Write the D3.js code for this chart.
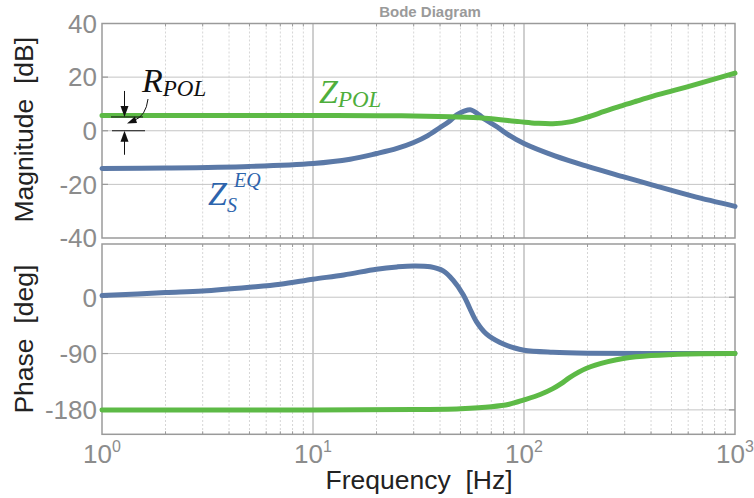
<!DOCTYPE html>
<html>
<head>
<meta charset="utf-8">
<script src="https://cdn.jsdelivr.net/npm/d3@7"></script>
<style>
  body { margin: 0; background: #fff; }
  text { font-family: "Liberation Sans", Arial, sans-serif; }
  .math { font-family: "Liberation Serif", "Times New Roman", serif; font-style: italic; }
</style>
</head>
<body>
<div id="chart"></div>
<script>
var svgWidth = 754;
var svgHeight = 498;

// magnitude curves (dB)
var blueMagFreq = [1, 2, 5, 10, 15, 20, 25, 30, 35, 40, 44, 48, 52, 56, 61, 66, 75, 83, 100, 140, 200, 300, 400, 630, 1000];
var blueMag = [-14.1, -13.9, -13.3, -12.2, -10.6, -8.5, -6.6, -4.4, -1.8, 1.2, 3.4, 5.9, 7.3, 7.8, 6.0, 4.0, 1.3, -1.2, -4.8, -9.4, -13.3, -17.3, -20.1, -24.4, -28.2];
var greenMagFreq = [1, 5, 10, 20, 30, 45, 65, 95, 115, 137, 165, 198, 240, 284, 340, 409, 490, 588, 760, 1000];
var greenMag = [5.7, 5.7, 5.7, 5.6, 5.5, 5.2, 4.7, 3.4, 2.8, 2.6, 3.3, 5.0, 7.2, 9.1, 11.0, 12.9, 14.6, 16.3, 18.8, 21.5];

// phase curves (deg)
var bluePhFreq = [1, 2, 3, 5, 7, 10, 14, 20, 25, 30, 36, 41.4, 46, 51.6, 55.3, 59.5, 66.3, 77, 89, 100, 137, 200, 400, 1000];
var bluePh = [2.6, 7.4, 10, 16, 20.8, 28.8, 35.6, 44.7, 48.4, 50, 48.6, 42, 27.6, 3.7, -17.6, -39, -58.7, -72.5, -80.5, -84.8, -88, -89.5, -90, -90];
var greenPhFreq = [1, 10, 30, 50, 70, 85, 100, 120, 137, 150, 165, 198, 250, 300, 400, 600, 1000];
var greenPh = [-180, -180, -179.5, -178, -175, -171, -164, -155, -146, -138, -128, -113.5, -103, -97.5, -93.3, -90.6, -90];

// tick labels
var magTicks = [40, 20, 0, -20, -40];
var phTicks = [0, -90, -180];
var freqTicks = [1, 10, 100, 1000];

var blueColor = "#5b79a7";
var greenColor = "#5dba46";
var frameColor = "#9a9a9a";
var tickTextColor = "#8c8c8c";

var svg = d3.select("#chart")
  .append("svg")
  .attr("width", svgWidth)
  .attr("height", svgHeight);

var plotLeft = 102, plotRight = 735;
var magTop = 23.5, magBottom = 238;
var phTop = 244, phBottom = 434.3;

var xScale = d3.scaleLog().domain([1, 1000]).range([plotLeft, plotRight]);
var yMag = d3.scaleLinear().domain([-40, 40]).range([magBottom, magTop]);
var yPh = d3.scaleLinear().domain([-219, 85]).range([phBottom, phTop]);

// minor frequencies 2..9 for each decade
var minorFreqs = [];
[1, 10, 100].forEach(function(d) {
  for (var k = 2; k <= 9; k++) minorFreqs.push(d * k);
});

function drawPanel(yScale, top, bottom, gridVals) {
  var g = svg.append("g");

  // minor vertical grid (dotted)
  g.selectAll(".minor").data(minorFreqs).enter().append("line")
    .attr("x1", d => xScale(d)).attr("x2", d => xScale(d))
    .attr("y1", top).attr("y2", bottom)
    .attr("stroke", "#d6d6d6").attr("stroke-width", 1)
    .attr("stroke-dasharray", "2,2");

  // major vertical grid
  g.selectAll(".major").data([10, 100]).enter().append("line")
    .attr("x1", d => xScale(d)).attr("x2", d => xScale(d))
    .attr("y1", top).attr("y2", bottom)
    .attr("stroke", d => d === 10 ? "#9e9e9e" : "#cfcfcf")
    .attr("stroke-width", d => d === 10 ? 1 : 2);

  // horizontal grid
  g.selectAll(".hgrid").data(gridVals).enter().append("line")
    .attr("x1", plotLeft).attr("x2", plotRight)
    .attr("y1", d => yScale(d)).attr("y2", d => yScale(d))
    .attr("stroke", "#c4c4c4").attr("stroke-width", 1);

  // inward ticks on left/right
  gridVals.forEach(function(v) {
    g.append("line").attr("x1", plotLeft).attr("x2", plotLeft + 6)
      .attr("y1", yScale(v)).attr("y2", yScale(v))
      .attr("stroke", frameColor).attr("stroke-width", 1.2);
    g.append("line").attr("x1", plotRight).attr("x2", plotRight - 6)
      .attr("y1", yScale(v)).attr("y2", yScale(v))
      .attr("stroke", frameColor).attr("stroke-width", 1.2);
  });

  // inward ticks on top/bottom
  minorFreqs.forEach(function(f) {
    [[top, 3], [bottom, -3]].forEach(function(p) {
      g.append("line").attr("x1", xScale(f)).attr("x2", xScale(f))
        .attr("y1", p[0]).attr("y2", p[0] + p[1])
        .attr("stroke", frameColor).attr("stroke-width", 1);
    });
  });

  // frame
  g.append("rect")
    .attr("x", plotLeft).attr("y", top)
    .attr("width", plotRight - plotLeft).attr("height", bottom - top)
    .attr("fill", "none").attr("stroke", frameColor).attr("stroke-width", 1.5);
  return g;
}

drawPanel(yMag, magTop, magBottom, [20, 0, -20]);
drawPanel(yPh, phTop, phBottom, [0, -90, -180]);

// curves
function drawCurve(freqs, vals, yScale, color) {
  var pts = freqs.map((f, i) => [f, vals[i]]);
  var line = d3.line()
    .x(d => xScale(d[0]))
    .y(d => yScale(d[1]))
    .curve(d3.curveCatmullRom.alpha(0.5));
  svg.append("path")
    .datum(pts)
    .attr("d", line)
    .attr("fill", "none")
    .attr("stroke", color)
    .attr("stroke-width", 5)
    .attr("stroke-linecap", "round")
    .attr("stroke-linejoin", "round");
}

drawCurve(blueMagFreq, blueMag, yMag, blueColor);
drawCurve(greenMagFreq, greenMag, yMag, greenColor);
drawCurve(bluePhFreq, bluePh, yPh, blueColor);
drawCurve(greenPhFreq, greenPh, yPh, greenColor);

// y tick labels
svg.selectAll(".magLabel").data(magTicks).enter().append("text")
  .attr("x", 97).attr("y", d => yMag(d))
  .attr("dy", "0.36em")
  .attr("text-anchor", "end")
  .attr("font-size", 26)
  .attr("fill", tickTextColor)
  .text(d => d);

svg.selectAll(".phLabel").data(phTicks).enter().append("text")
  .attr("x", 97).attr("y", d => yPh(d))
  .attr("dy", "0.36em")
  .attr("text-anchor", "end")
  .attr("font-size", 26)
  .attr("fill", tickTextColor)
  .text(d => d);

// x tick labels 10^n
var xLab = svg.selectAll(".xLabel").data(freqTicks).enter().append("text")
  .attr("x", d => xScale(d)).attr("y", 463)
  .attr("text-anchor", "middle")
  .attr("font-size", 26)
  .attr("fill", tickTextColor);
xLab.append("tspan").text("10");
xLab.append("tspan").attr("font-size", 16).attr("dy", -11)
  .text(d => Math.round(Math.log10(d)));

// axis titles
svg.append("text")
  .attr("transform", "translate(33," + ((magTop + magBottom) / 2 - 1) + ") rotate(-90)")
  .attr("text-anchor", "middle")
  .attr("font-size", 26.5)
  .attr("fill", "#222")
  .style("white-space", "pre")
  .text("Magnitude  [dB]");

svg.append("text")
  .attr("transform", "translate(33," + ((phTop + phBottom) / 2) + ") rotate(-90)")
  .attr("text-anchor", "middle")
  .attr("font-size", 26.5)
  .attr("fill", "#222")
  .style("white-space", "pre")
  .text("Phase  [deg]");

svg.append("text")
  .attr("x", 419).attr("y", 489)
  .attr("text-anchor", "middle")
  .attr("font-size", 26.5)
  .attr("fill", "#222")
  .style("white-space", "pre")
  .text("Frequency  [Hz]");

svg.append("text")
  .attr("x", 430).attr("y", 17)
  .attr("text-anchor", "middle")
  .attr("font-size", 15)
  .attr("font-weight", "bold")
  .attr("fill", "#9a9a9a")
  .text("Bode Diagram");

// curve labels
var zpol = svg.append("text").attr("class", "math")
  .attr("x", 319).attr("y", 103)
  .attr("fill", "#4fae3c").attr("font-size", 34);
zpol.append("tspan").text("Z");
zpol.append("tspan").attr("font-size", 23).attr("dy", 4).text("POL");

svg.append("text").attr("class", "math")
  .attr("x", 208).attr("y", 205)
  .attr("fill", "#2d64ac").attr("font-size", 34)
  .text("Z");
svg.append("text").attr("class", "math")
  .attr("x", 227).attr("y", 212)
  .attr("fill", "#2d64ac").attr("font-size", 20)
  .text("S");
svg.append("text").attr("class", "math")
  .attr("x", 234).attr("y", 187)
  .attr("fill", "#2d64ac").attr("font-size", 20)
  .text("EQ");

var rpol = svg.append("text").attr("class", "math")
  .attr("x", 142).attr("y", 92)
  .attr("fill", "#111").attr("font-size", 34);
rpol.append("tspan").text("R");
rpol.append("tspan").attr("font-size", 23).attr("dy", 4).text("POL");

// R_POL dimension marker between 0 dB and the low-frequency Z_POL level
var yLow = yMag(0), yHigh = yMag(greenMag[0]) + 1.5;
var ax = 124.5;
svg.append("line").attr("x1", 111).attr("x2", 143).attr("y1", yHigh).attr("y2", yHigh)
  .attr("stroke", "#111").attr("stroke-width", 1);
svg.append("line").attr("x1", 112).attr("x2", 145).attr("y1", yLow).attr("y2", yLow)
  .attr("stroke", "#111").attr("stroke-width", 1);

svg.append("line").attr("x1", ax).attr("x2", ax).attr("y1", yHigh - 26).attr("y2", yHigh - 8)
  .attr("stroke", "#111").attr("stroke-width", 1);
svg.append("path")
  .attr("d", "M" + (ax - 4) + "," + (yHigh - 11) + "L" + (ax + 4) + "," + (yHigh - 11) + "L" + ax + "," + yHigh + "Z")
  .attr("fill", "#111");
svg.append("line").attr("x1", ax).attr("x2", ax).attr("y1", yLow + 24).attr("y2", yLow + 8)
  .attr("stroke", "#111").attr("stroke-width", 1);
svg.append("path")
  .attr("d", "M" + (ax - 4) + "," + (yLow + 11) + "L" + (ax + 4) + "," + (yLow + 11) + "L" + ax + "," + yLow + "Z")
  .attr("fill", "#111");

// curved leader from the label
svg.append("path")
  .attr("d", "M148,99 Q146,116 134,120.5")
  .attr("fill", "none").attr("stroke", "#111").attr("stroke-width", 1);
svg.append("path")
  .attr("d", "M127,123.5 L135,116.5 L137,123 Z")
  .attr("fill", "#111");
</script>
</body>
</html>
